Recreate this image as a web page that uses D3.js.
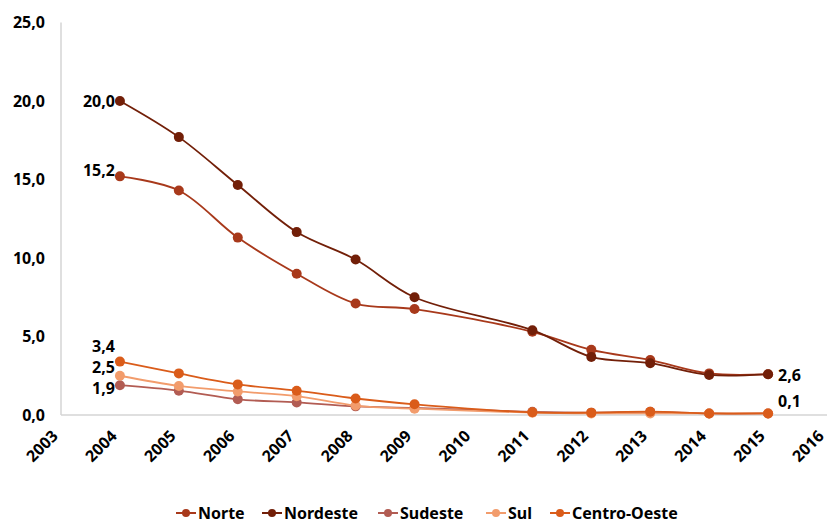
<!DOCTYPE html>
<html>
<head>
<meta charset="utf-8">
<script src="https://cdn.jsdelivr.net/npm/d3@7/dist/d3.min.js"></script>
<style>
  html, body { margin: 0; padding: 0; background: #fff; }
  svg text { font-family: "Noto Sans", "Open Sans", sans-serif; font-weight: 700; fill: #000; }
</style>
</head>
<body>
<svg id="chart" width="830" height="523"></svg>
<script>
// Years with observations (2010 has no survey value)
const years = [2004, 2005, 2006, 2007, 2008, 2009, 2011, 2012, 2013, 2014, 2015];
const seriesNames = ["Norte", "Nordeste", "Sudeste", "Sul", "Centro-Oeste"];
const norte       = [15.2, 14.3, 11.3, 9.0, 7.1, 6.75, 5.3, 4.15, 3.5, 2.65, 2.6];
const nordeste    = [20.0, 17.7, 14.65, 11.65, 9.9, 7.5, 5.4, 3.7, 3.3, 2.55, 2.6];
const sudeste     = [1.9, 1.55, 1.0, 0.8, 0.55, 0.45, 0.2, 0.15, 0.2, 0.1, 0.1];
const sul         = [2.5, 1.85, 1.5, 1.2, 0.6, 0.4, 0.15, 0.1, 0.1, 0.1, 0.1];
const centroOeste = [3.4, 2.65, 1.95, 1.55, 1.05, 0.68, 0.17, 0.15, 0.21, 0.1, 0.1];
const colors = ["#A8391B", "#721F08", "#B25C53", "#F29C6C", "#DA5C1A"];
const yTicks = [0, 5, 10, 15, 20, 25];
const xTicks = d3.range(2003, 2017);

const values = [norte, nordeste, sudeste, sul, centroOeste];
const series = seriesNames.map((name, i) => ({
  name, color: colors[i],
  points: years.map((y, j) => ({ year: y, v: values[i][j] }))
}));

const svg = d3.select("#chart");
const x = d3.scaleLinear().domain([2003, 2016]).range([61, 827]);
const y = d3.scaleLinear().domain([0, 25]).range([415, 22.5]);
const fmt = v => d3.format(".1f")(v).replace(".", ",");

// Axis lines
svg.append("line").attr("x1", x(2003)).attr("x2", x(2003))
  .attr("y1", y(25)).attr("y2", y(0)).attr("stroke", "#d4d4d4").attr("stroke-width", 1.5);
svg.append("line").attr("x1", x(2003)).attr("x2", x(2016))
  .attr("y1", y(0)).attr("y2", y(0)).attr("stroke", "#d4d4d4").attr("stroke-width", 1.5);

// Y tick labels
svg.append("g").selectAll("text").data(yTicks).join("text")
  .attr("x", 45).attr("y", d => y(d)).attr("dy", "0.35em")
  .attr("text-anchor", "end").attr("font-size", 16).text(fmt);

// X tick labels, rotated
svg.append("g").selectAll("text").data(xTicks).join("text")
  .attr("transform", d => `translate(${x(d) - 2},${437}) rotate(-45)`)
  .attr("text-anchor", "end").attr("font-size", 16).text(d => d);

// Smoothed lines with markers
const line = d3.line().x(d => x(d.year)).y(d => y(d.v)).curve(d3.curveCatmullRom.alpha(0.5));
const g = svg.append("g");
series.forEach(s => {
  g.append("path").attr("d", line(s.points)).attr("fill", "none")
    .attr("stroke", s.color).attr("stroke-width", 1.8);
  g.append("g").selectAll("circle").data(s.points).join("circle")
    .attr("cx", d => x(d.year)).attr("cy", d => y(d.v)).attr("r", 5)
    .attr("fill", s.color);
});

// Value labels at the start year
const startLabels = [
  { v: nordeste[0], dy: 0 },
  { v: norte[0], dy: -6 },
  { v: centroOeste[0], dy: -15 },
  { v: sul[0], dy: -8 },
  { v: sudeste[0], dy: 3 }
];
svg.append("g").selectAll("text").data(startLabels).join("text")
  .attr("x", x(2004) - 5).attr("y", d => y(d.v) + d.dy).attr("dy", "0.35em")
  .attr("text-anchor", "end").attr("font-size", 16).text(d => fmt(d.v));

// Value labels at the end year
const endLabels = [
  { v: nordeste[nordeste.length - 1], dy: 1 },
  { v: centroOeste[centroOeste.length - 1], dy: -12 }
];
svg.append("g").selectAll("text").data(endLabels).join("text")
  .attr("x", x(2015) + 10).attr("y", d => y(d.v) + d.dy).attr("dy", "0.35em")
  .attr("text-anchor", "start").attr("font-size", 16).text(d => fmt(d.v));

// Legend
const legendX = [176, 262, 378, 486, 550];
const lg = svg.append("g");
series.forEach((s, i) => {
  const lx = legendX[i], ly = 513;
  lg.append("line").attr("x1", lx).attr("x2", lx + 20).attr("y1", ly).attr("y2", ly)
    .attr("stroke", s.color).attr("stroke-width", 2);
  lg.append("circle").attr("cx", lx + 10).attr("cy", ly).attr("r", 4).attr("fill", s.color);
  lg.append("text").attr("x", lx + 22).attr("y", ly).attr("dy", "0.35em")
    .attr("font-size", 16).text(s.name);
});
</script>
</body>
</html>
